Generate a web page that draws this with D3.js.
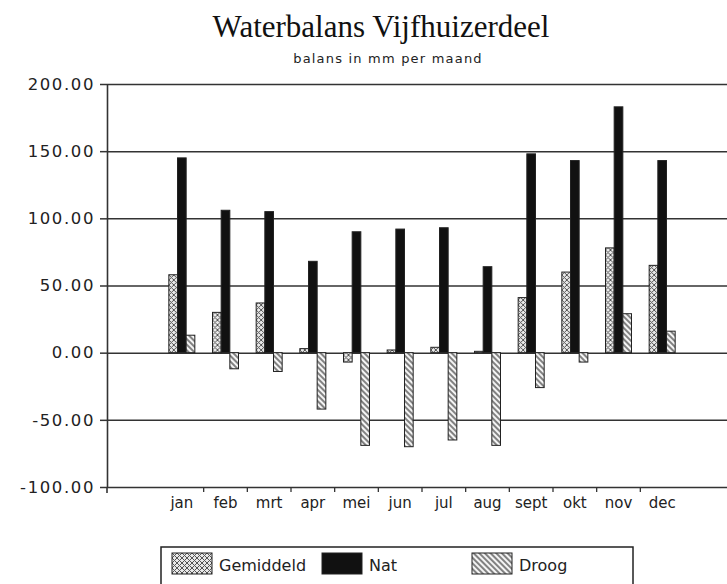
<!DOCTYPE html>
<html>
<head>
<meta charset="utf-8">
<script src="https://cdn.jsdelivr.net/npm/d3@7"></script>
<style>
  body { margin: 0; background: #fff; }
  svg { display: block; }
  .tick text { fill: #222; }
</style>
</head>
<body>
<svg id="chart" width="727" height="584"></svg>
<script>
// chart data
var months = ['jan', 'feb', 'mrt', 'apr', 'mei', 'jun', 'jul', 'aug', 'sept', 'okt', 'nov', 'dec'];
var seriesNames = ['Gemiddeld', 'Nat', 'Droog'];
var gemiddeld = [58, 30, 37, 3, -7, 2, 4, 1, 41, 60, 78, 65];
var nat = [145, 106, 105, 68, 90, 92, 93, 64, 148, 143, 183, 143];
var droog = [13, -12, -14, -42, -69, -70, -65, -69, -26, -7, 29, 16];
var yTicks = [-100, -50, 0, 50, 100, 150, 200];

var svg = d3.select('#chart');
var plotLeft = 107, plotRight = 727, plotTop = 84, plotBottom = 487;

var defs = svg.append('defs');
var pg = defs.append('pattern')
  .attr('id', 'pat-gem').attr('patternUnits', 'userSpaceOnUse')
  .attr('width', 5).attr('height', 5);
pg.append('rect').attr('width', 5).attr('height', 5).attr('fill', '#e8e8e8');
pg.append('path').attr('d', 'M0,0L5,5M5,0L0,5').attr('stroke', '#555').attr('stroke-width', 1);

var pd = defs.append('pattern')
  .attr('id', 'pat-droog').attr('patternUnits', 'userSpaceOnUse')
  .attr('width', 4).attr('height', 4)
  .attr('patternTransform', 'rotate(-45)');
pd.append('rect').attr('width', 4).attr('height', 4).attr('fill', '#f4f4f4');
pd.append('line').attr('x1', 1).attr('y1', 0).attr('x2', 1).attr('y2', 4)
  .attr('stroke', '#444').attr('stroke-width', 1.3);

var fills = {Gemiddeld: 'url(#pat-gem)', Nat: '#111', Droog: 'url(#pat-droog)'};

var y = d3.scaleLinear().domain([-100, 200]).range([plotBottom, plotTop]);
var x = d3.scaleBand().domain(months).range([160, 684]).padding(0);
var groupW = 26;
var xs = d3.scaleBand().domain(seriesNames).range([0, groupW]).padding(0);

// title
svg.append('text').attr('x', 381).attr('y', 37)
  .attr('text-anchor', 'middle')
  .style('font-family', '"Liberation Serif", "DejaVu Serif", serif')
  .style('font-size', '31px').style('fill', '#111')
  .text('Waterbalans Vijfhuizerdeel');
svg.append('text').attr('x', 388).attr('y', 63)
  .attr('text-anchor', 'middle')
  .style('font-family', '"DejaVu Sans", sans-serif')
  .style('font-size', '13px').style('letter-spacing', '1.2px').style('fill', '#222')
  .text('balans in mm per maand');

// grid lines
var grid = svg.append('g').attr('transform', 'translate(' + plotLeft + ',0)')
  .call(d3.axisLeft(y).tickValues(yTicks).tickSize(-(plotRight - plotLeft)).tickFormat(''));
grid.select('.domain').remove();
grid.selectAll('.tick line').attr('stroke', '#333').attr('stroke-width', 1.5);

// y axis with labels
var yAxis = svg.append('g').attr('transform', 'translate(' + plotLeft + ',0)')
  .call(d3.axisLeft(y).tickValues(yTicks).tickSizeInner(7).tickSizeOuter(0).tickPadding(5)
    .tickFormat(function(d) { return d3.format('.2f')(d).replace('\u2212', '-'); }));
yAxis.select('.domain').attr('stroke', '#333').attr('stroke-width', 1.6);
yAxis.selectAll('.tick line').attr('stroke', '#333').attr('stroke-width', 1.5);
yAxis.selectAll('.tick text')
  .style('font-family', '"DejaVu Sans", sans-serif')
  .style('font-size', '16.5px').style('letter-spacing', '1.6px');

svg.append('line').attr('x1', plotLeft).attr('x2', plotLeft)
  .attr('y1', plotBottom).attr('y2', plotBottom + 6)
  .attr('stroke', '#333').attr('stroke-width', 1.6);

// bars
var rows = months.map(function(m, i) {
  return {month: m, values: [
    {key: 'Gemiddeld', value: gemiddeld[i]},
    {key: 'Nat', value: nat[i]},
    {key: 'Droog', value: droog[i]}
  ]};
});
var off = (x.bandwidth() - groupW) / 2;
var groups = svg.append('g').selectAll('g').data(rows).join('g')
  .attr('transform', function(d) { return 'translate(' + (x(d.month) + off) + ',0)'; });
groups.selectAll('rect').data(function(d) { return d.values; }).join('rect')
  .attr('x', function(d) { return xs(d.key); })
  .attr('width', xs.bandwidth())
  .attr('y', function(d) { return y(Math.max(0, d.value)); })
  .attr('height', function(d) { return Math.abs(y(d.value) - y(0)); })
  .attr('fill', function(d) { return fills[d.key]; })
  .attr('stroke', '#222').attr('stroke-width', 1);

// x axis: labels at month centres, small ticks between months
var xAxis = svg.append('g').attr('transform', 'translate(0,' + plotBottom + ')')
  .call(d3.axisBottom(x).tickSize(0).tickPadding(10));
xAxis.select('.domain').remove();
xAxis.selectAll('.tick text')
  .style('font-family', '"DejaVu Sans", sans-serif')
  .style('font-size', '15px');
svg.append('g').selectAll('line').data(months.slice(1)).join('line')
  .attr('x1', function(d) { return x(d); }).attr('x2', function(d) { return x(d); })
  .attr('y1', plotBottom).attr('y2', plotBottom + 5)
  .attr('stroke', '#333').attr('stroke-width', 1.3);

// legend
var legend = svg.append('g');
legend.append('rect').attr('x', 161).attr('y', 547).attr('width', 472).attr('height', 60)
  .attr('fill', 'none').attr('stroke', '#222').attr('stroke-width', 1.5);
var legendPos = [172, 322, 472];
var items = legend.selectAll('g.item').data(seriesNames).join('g')
  .attr('class', 'item')
  .attr('transform', function(d, i) { return 'translate(' + legendPos[i] + ',553)'; });
items.append('rect').attr('width', 40).attr('height', 21)
  .attr('fill', function(d) { return fills[d]; })
  .attr('stroke', '#222').attr('stroke-width', 1);
items.append('text').attr('x', 47).attr('y', 18)
  .style('font-family', '"DejaVu Sans", sans-serif')
  .style('font-size', '16px').style('fill', '#222')
  .text(function(d) { return d; });
</script>
</body>
</html>
